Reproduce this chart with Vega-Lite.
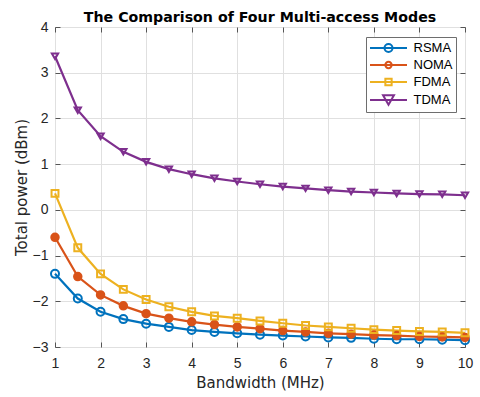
{
  "$schema": "https://vega.github.io/schema/vega-lite/v6.json",
  "autosize": "none",
  "width": 410,
  "height": 320,
  "padding": {"left": 55, "top": 27, "right": 15, "bottom": 50},
  "background": "white",
  "title": {"text": "The Comparison of Four Multi-access Modes", "anchor": "middle", "font": "DejaVu Sans", "fontSize": 14.2, "fontWeight": "bold", "color": "#000000", "offset": -5},
  "config": {
    "view": {"stroke": "#8a8a8a", "strokeWidth": 1},
    "font": "Liberation Sans",
    "axis": {"domain": false, "gridColor": "#e0e0e0", "gridWidth": 1, "tickColor": "#555555", "tickSize": -5, "labelFont": "Liberation Sans", "labelFontSize": 14, "labelColor": "#262626", "titleFont": "DejaVu Sans", "titleFontSize": 15, "titleFontWeight": "normal", "titleColor": "#262626"}
  },
  "data": {"values": [
    {"x": 1, "series": "RSMA", "y": -1.40}, {"x": 1.5, "series": "RSMA", "y": -1.94}, {"x": 2, "series": "RSMA", "y": -2.23}, {"x": 2.5, "series": "RSMA", "y": -2.39}, {"x": 3, "series": "RSMA", "y": -2.49}, {"x": 3.5, "series": "RSMA", "y": -2.56}, {"x": 4, "series": "RSMA", "y": -2.63}, {"x": 4.5, "series": "RSMA", "y": -2.67}, {"x": 5, "series": "RSMA", "y": -2.70}, {"x": 5.5, "series": "RSMA", "y": -2.73}, {"x": 6, "series": "RSMA", "y": -2.75}, {"x": 6.5, "series": "RSMA", "y": -2.77}, {"x": 7, "series": "RSMA", "y": -2.79}, {"x": 7.5, "series": "RSMA", "y": -2.80}, {"x": 8, "series": "RSMA", "y": -2.82}, {"x": 8.5, "series": "RSMA", "y": -2.83}, {"x": 9, "series": "RSMA", "y": -2.83}, {"x": 9.5, "series": "RSMA", "y": -2.84}, {"x": 10, "series": "RSMA", "y": -2.85},
    {"x": 1, "series": "NOMA", "y": -0.60}, {"x": 1.5, "series": "NOMA", "y": -1.46}, {"x": 2, "series": "NOMA", "y": -1.86}, {"x": 2.5, "series": "NOMA", "y": -2.10}, {"x": 3, "series": "NOMA", "y": -2.27}, {"x": 3.5, "series": "NOMA", "y": -2.37}, {"x": 4, "series": "NOMA", "y": -2.45}, {"x": 4.5, "series": "NOMA", "y": -2.51}, {"x": 5, "series": "NOMA", "y": -2.56}, {"x": 5.5, "series": "NOMA", "y": -2.60}, {"x": 6, "series": "NOMA", "y": -2.64}, {"x": 6.5, "series": "NOMA", "y": -2.67}, {"x": 7, "series": "NOMA", "y": -2.70}, {"x": 7.5, "series": "NOMA", "y": -2.72}, {"x": 8, "series": "NOMA", "y": -2.74}, {"x": 8.5, "series": "NOMA", "y": -2.75}, {"x": 9, "series": "NOMA", "y": -2.77}, {"x": 9.5, "series": "NOMA", "y": -2.78}, {"x": 10, "series": "NOMA", "y": -2.79},
    {"x": 1, "series": "FDMA", "y": 0.36}, {"x": 1.5, "series": "FDMA", "y": -0.83}, {"x": 2, "series": "FDMA", "y": -1.40}, {"x": 2.5, "series": "FDMA", "y": -1.74}, {"x": 3, "series": "FDMA", "y": -1.96}, {"x": 3.5, "series": "FDMA", "y": -2.12}, {"x": 4, "series": "FDMA", "y": -2.23}, {"x": 4.5, "series": "FDMA", "y": -2.32}, {"x": 5, "series": "FDMA", "y": -2.37}, {"x": 5.5, "series": "FDMA", "y": -2.43}, {"x": 6, "series": "FDMA", "y": -2.48}, {"x": 6.5, "series": "FDMA", "y": -2.53}, {"x": 7, "series": "FDMA", "y": -2.56}, {"x": 7.5, "series": "FDMA", "y": -2.59}, {"x": 8, "series": "FDMA", "y": -2.62}, {"x": 8.5, "series": "FDMA", "y": -2.64}, {"x": 9, "series": "FDMA", "y": -2.66}, {"x": 9.5, "series": "FDMA", "y": -2.67}, {"x": 10, "series": "FDMA", "y": -2.69},
    {"x": 1, "series": "TDMA", "y": 3.36}, {"x": 1.5, "series": "TDMA", "y": 2.18}, {"x": 2, "series": "TDMA", "y": 1.61}, {"x": 2.5, "series": "TDMA", "y": 1.27}, {"x": 3, "series": "TDMA", "y": 1.05}, {"x": 3.5, "series": "TDMA", "y": 0.89}, {"x": 4, "series": "TDMA", "y": 0.78}, {"x": 4.5, "series": "TDMA", "y": 0.69}, {"x": 5, "series": "TDMA", "y": 0.62}, {"x": 5.5, "series": "TDMA", "y": 0.56}, {"x": 6, "series": "TDMA", "y": 0.51}, {"x": 6.5, "series": "TDMA", "y": 0.47}, {"x": 7, "series": "TDMA", "y": 0.43}, {"x": 7.5, "series": "TDMA", "y": 0.40}, {"x": 8, "series": "TDMA", "y": 0.38}, {"x": 8.5, "series": "TDMA", "y": 0.36}, {"x": 9, "series": "TDMA", "y": 0.345}, {"x": 9.5, "series": "TDMA", "y": 0.34}, {"x": 10, "series": "TDMA", "y": 0.32}
  ]},
  "layer": [
    {
      "mark": {"type": "line", "strokeWidth": 2.2},
      "encoding": {
        "x": {"field": "x", "type": "quantitative", "scale": {"domain": [1, 10], "nice": false, "zero": false}, "axis": {"orient": "bottom", "values": [1, 2, 3, 4, 5, 6, 7, 8, 9, 10], "title": "Bandwidth (MHz)", "labelPadding": 14, "titlePadding": 5, "labelFlush": false}},
        "y": {"field": "y", "type": "quantitative", "scale": {"domain": [-3, 4], "nice": false, "zero": false}, "axis": {"orient": "left", "values": [-3, -2, -1, 0, 1, 2, 3, 4], "title": "Total power (dBm)", "labelPadding": 12, "titlePadding": 3, "labelFlush": false}},
        "color": {"field": "series", "type": "nominal", "scale": {"domain": ["RSMA", "NOMA", "FDMA", "TDMA"], "range": ["#0072BD", "#D95319", "#EDB120", "#7E2F8E"]}, "legend": null}
      }
    },
    {
      "mark": {"type": "point", "strokeWidth": 2, "opacity": 1},
      "encoding": {
        "x": {"field": "x", "type": "quantitative", "axis": {"orient": "top", "values": [1, 2, 3, 4, 5, 6, 7, 8, 9, 10], "labels": false, "grid": false, "title": null}},
        "y": {"field": "y", "type": "quantitative", "axis": {"orient": "right", "values": [-3, -2, -1, 0, 1, 2, 3, 4], "labels": false, "grid": false, "title": null}},
        "stroke": {"field": "series", "type": "nominal", "scale": {"domain": ["RSMA", "NOMA", "FDMA", "TDMA"], "range": ["#0072BD", "#D95319", "#EDB120", "#7E2F8E"]}, "legend": null},
        "fill": {"field": "series", "type": "nominal", "scale": {"domain": ["RSMA", "NOMA", "FDMA", "TDMA"], "range": ["transparent", "#D95319", "transparent", "transparent"]}, "legend": null},
        "shape": {"field": "series", "type": "nominal", "scale": {"domain": ["RSMA", "NOMA", "FDMA", "TDMA"], "range": ["circle", "circle", "square", "triangle-down"]}, "legend": null},
        "size": {"field": "series", "type": "ordinal", "scale": {"domain": ["RSMA", "NOMA", "FDMA", "TDMA"], "range": [64, 40, 40, 120]}, "legend": null}
      }
    },
    {
      "mark": {"type": "point", "strokeWidth": 2, "opacity": 0, "size": 196},
      "encoding": {
        "x": {"field": "x", "type": "quantitative", "axis": null},
        "y": {"field": "y", "type": "quantitative", "axis": null},
        "stroke": {"field": "series", "type": "nominal", "scale": {"domain": ["RSMA", "NOMA", "FDMA", "TDMA"], "range": ["#0072BD", "#D95319", "#EDB120", "#7E2F8E"]},
          "legend": {"title": null, "orient": "none", "legendX": 311, "legendY": 10, "padding": 3, "rowPadding": 1, "symbolOffset": 11.5, "labelOffset": 17, "symbolSize": 196, "symbolStrokeWidth": 2, "symbolOpacity": 1, "labelFont": "Liberation Sans", "labelFontSize": 13, "labelColor": "#000000", "strokeColor": "#6e6e6e", "fillColor": "white", "cornerRadius": 0}},
        "fill": {"field": "series", "type": "nominal", "scale": {"domain": ["RSMA", "NOMA", "FDMA", "TDMA"], "range": ["transparent", "#D95319", "transparent", "transparent"]}},
        "shape": {"field": "series", "type": "nominal", "scale": {"domain": ["RSMA", "NOMA", "FDMA", "TDMA"], "range": [
          "M-2.64,0H2.64M0.57,0A0.57,0.57,0,1,1,-0.57,0A0.57,0.57,0,1,1,0.57,0",
          "M-2.64,0H2.64M0.45,0A0.45,0.45,0,1,1,-0.45,0A0.45,0.45,0,1,1,0.45,0",
          "M-2.64,0H2.64M-0.45,-0.45H0.45V0.45H-0.45Z",
          "M-2.64,0H2.64M-0.78,-0.68L0.78,-0.68L0,0.68Z"
        ]}}
      }
    }
  ],
  "resolve": {"scale": {"color": "independent", "stroke": "independent", "fill": "independent", "shape": "independent", "size": "independent"}, "axis": {"x": "independent", "y": "independent"}}
}
